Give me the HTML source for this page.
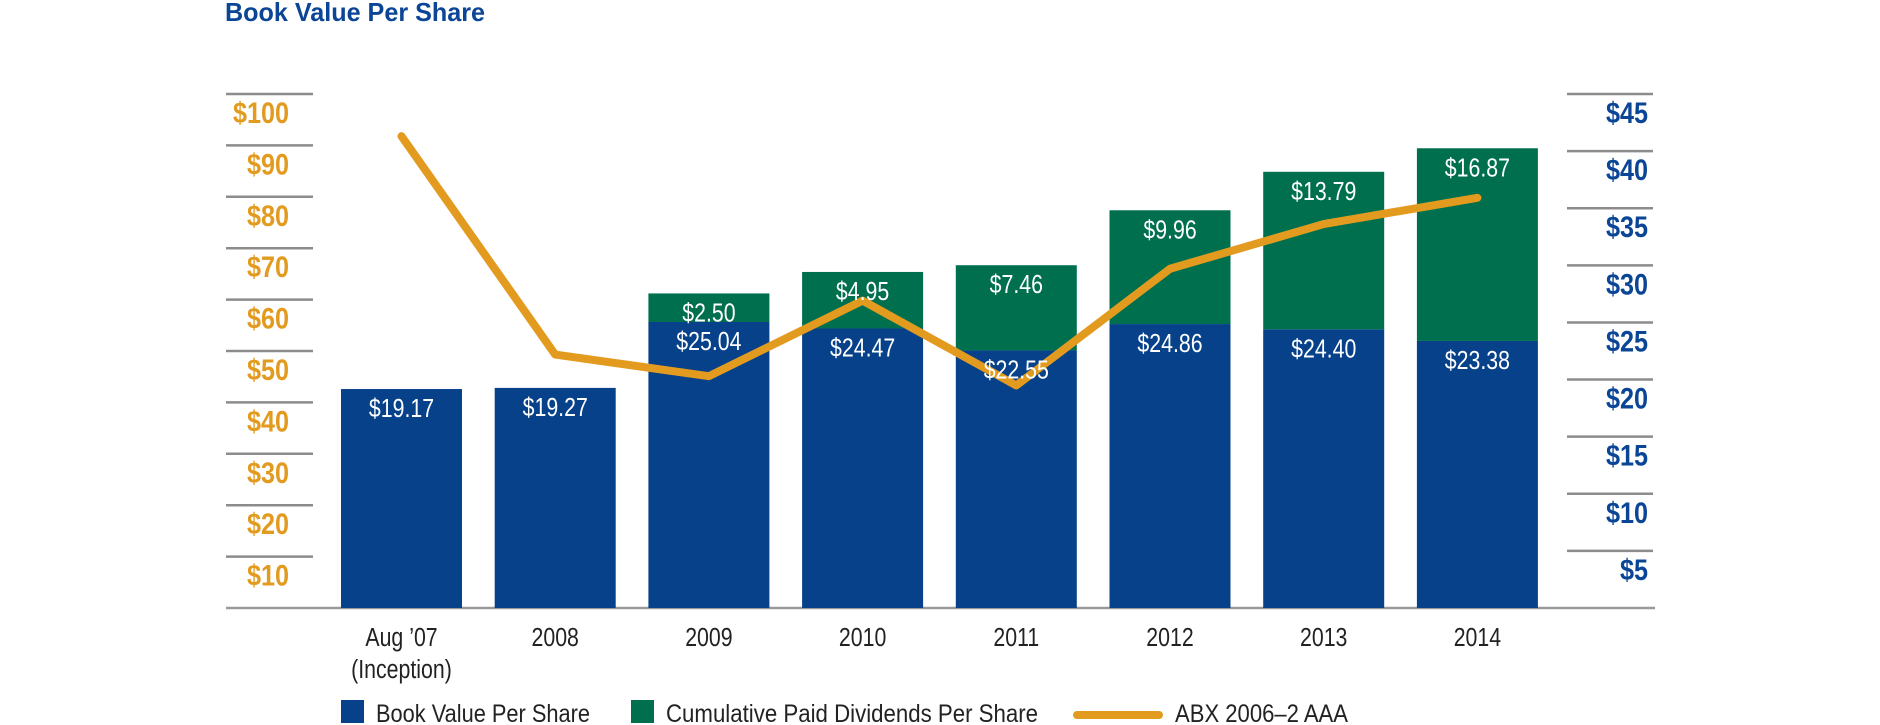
<!DOCTYPE html>
<html><head><meta charset="utf-8"><style>
html,body{margin:0;padding:0;background:#fff;}
svg{display:block;font-family:"Liberation Sans",sans-serif;}
</style></head><body>
<svg id="chart" width="1880" height="725" viewBox="0 0 1880 725">
<text x="225" y="21" font-size="26" font-weight="bold" fill="#0B4596" textLength="260" lengthAdjust="spacingAndGlyphs">Book Value Per Share</text>
<g id="axes"></g><g id="bars"></g><g id="line"></g><g id="labels"></g>
<g>
<rect x="341" y="700" width="23" height="23" fill="#06418A"/>
<text x="376" y="722" font-size="25" fill="#222" textLength="214" lengthAdjust="spacingAndGlyphs">Book Value Per Share</text>
<rect x="631" y="700" width="23" height="23" fill="#006F4E"/>
<text x="666" y="722" font-size="25" fill="#222" textLength="372" lengthAdjust="spacingAndGlyphs">Cumulative Paid Dividends Per Share</text>
<line x1="1077" y1="715" x2="1159" y2="715" stroke="#E29B1F" stroke-width="8" stroke-linecap="round"/>
<text x="1175" y="722" font-size="25" fill="#222" textLength="173" lengthAdjust="spacingAndGlyphs">ABX 2006–2 AAA</text>
</g>
</svg>
<script>
const categories=["Aug ’07","2008","2009","2010","2011","2012","2013","2014"];
const bookValue=[19.17,19.27,25.04,24.47,22.55,24.86,24.40,23.38];
const dividends=[0,0,2.50,4.95,7.46,9.96,13.79,16.87];
const abx=[91.8,49.3,45.1,59.8,43.3,66.0,74.7,79.8];
const leftTicks=[10,20,30,40,50,60,70,80,90,100];
const rightTicks=[5,10,15,20,25,30,35,40,45];

const NS="http://www.w3.org/2000/svg";
const base=608, top0=94, H=base-top0;
const yL=v=>base-v/100*H;
const yR=v=>base-v/45*H;
const xC=i=>401.5+153.7*i;
const bw=121;
function mk(tag,attrs,parent,txt){const e=document.createElementNS(NS,tag);for(const k in attrs)e.setAttribute(k,attrs[k]);if(txt!==undefined)e.textContent=txt;document.getElementById(parent).appendChild(e);return e;}
function tx(x,y,sx,attrs,parent,txt){attrs.transform='translate('+x+','+y+') scale('+sx+',1)';return mk('text',attrs,parent,txt);}

let e=mk('line',{x1:226,x2:1655,y1:base,y2:base,stroke:'#999',"stroke-width":2.5},'axes');


leftTicks.forEach(t=>{
  let l=mk('line',{x1:226,x2:313,y1:yL(t),y2:yL(t),stroke:'#8c8c8c',"stroke-width":2.5},'axes');
  
  
  let s=tx(289,yL(t)+29,0.84,{"text-anchor":"end","font-size":30,"font-weight":"bold",fill:'#E29B1F'},'axes','$'+t);
  
  
});
rightTicks.forEach(t=>{
  let l=mk('line',{x1:1567,x2:1653,y1:yR(t),y2:yR(t),stroke:'#8c8c8c',"stroke-width":2.5},'axes');
  
  
  let s=tx(1648,yR(t)+29,0.84,{"text-anchor":"end","font-size":30,"font-weight":"bold",fill:'#0B4596'},'axes','$'+t);
  
  
});
categories.forEach((c,i)=>{
  const x=xC(i)-bw/2;
  let b=mk('rect',{x:x,y:yR(bookValue[i]),width:bw,height:base-yR(bookValue[i]),fill:'#06418A'},'bars');
  
  
  let bl=tx(xC(i),yR(bookValue[i])+28,0.82,{"text-anchor":"middle","font-size":26,fill:'#fff'},'labels','$'+bookValue[i].toFixed(2));
  
  
  if(dividends[i]>0){
    const t=bookValue[i]+dividends[i];
    let d=mk('rect',{x:x,y:yR(t),width:bw,height:yR(bookValue[i])-yR(t),fill:'#006F4E'},'bars');
    
    
    let dl=tx(xC(i),yR(t)+28,0.82,{"text-anchor":"middle","font-size":26,fill:'#fff'},'labels','$'+dividends[i].toFixed(2));
    
    
  }
  let cl=tx(xC(i),646,0.82,{"text-anchor":"middle","font-size":26,fill:'#222'},'labels',c);
  
  
});
let inc=tx(xC(0),678,0.82,{"text-anchor":"middle","font-size":26,fill:'#222'},'labels','(Inception)');


const pts=abx.map((v,i)=>xC(i)+','+yL(v)).join(' ');
let pl=mk('polyline',{points:pts,fill:'none',stroke:'#E29B1F',"stroke-width":8,"stroke-linecap":"round","stroke-linejoin":"round"},'line');


</script>
</body></html>
